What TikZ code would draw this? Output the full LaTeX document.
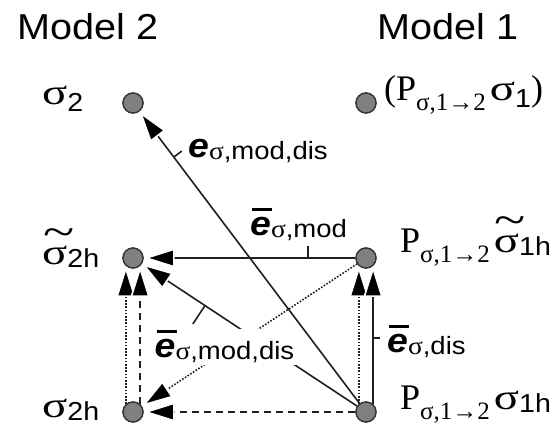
\documentclass[tikz,border=0pt]{standalone}
\usepackage{fontspec}
\usepackage{graphicx}
\setmainfont{Liberation Serif}
\newfontfamily\sansf[FakeStretch=1.1]{Liberation Sans}
\usetikzlibrary{arrows.meta,calc}
\newcommand\fs[1]{\fontsize{#1}{#1}\selectfont}
\newcommand\sg{{\rmfamily\scalebox{1.3}[1]{σ}}}
\newcommand\ssg{{\rmfamily\scalebox{1.1}[1]{σ}}}
\newcommand\tsg{\makebox[0pt][l]{\hspace{1pt}\raisebox{18pt}{\scalebox{1.6}[1.2]{\textasciitilde}}}\sg}
\newcommand\Ps{P\raisebox{-10pt}{\fs{25}σ,1→2}\hspace{4pt}}
\newcommand\eb{\makebox[0pt][l]{\hspace{2pt}\rule[25pt]{20pt}{2.6pt}}\textbf{\textit{e}}}
\begin{document}
\begin{tikzpicture}[x=1pt,y=-1pt,
  dot/.style={circle,minimum size=20pt,inner sep=0pt,fill=black!50,draw=black!80,line width=1.3pt},
  lab/.style={anchor=base west,inner sep=0pt},
  arr/.style={line width=1.6pt,draw=black!88,-{Triangle[length=31pt,width=19pt,color=white,fill=black]}},
  dotl/.style={dash pattern=on 1.6pt off 1.6pt},
  dashl/.style={dash pattern=on 7pt off 5pt},
  tk/.style={line width=1.6pt,draw=black!88}]
\useasboundingbox (0,0) rectangle (555,427);
% dots (positions)
\node[dot] (s2) at (133,103) {};
\node[dot] (p1) at (366,103) {};
\node[dot] (s2t) at (133,258) {};
\node[dot] (p1t) at (366,258) {};
\node[dot] (s2h) at (133,412) {};
\node[dot] (p1h) at (366,412) {};
% texts
\node[lab] (m2) at (17,40) {\sansf\fs{36}Model 2};
\node[lab] (m1) at (377,40) {\sansf\fs{36}Model 1};
\node[lab] (ls2) at (42,105) {\fs{36}\sg\raisebox{-7pt}{\sansf\fs{26}2}};
\node[lab] (lp1) at (384,101) {\fs{36}(\Ps\sg\raisebox{-7pt}{\sansf\fs{26}1})};
\node[lab] (ls2t) at (42,265) {\fs{36}\tsg\raisebox{-3pt}{\sansf\fs{26}2h}};
\node[lab] (lp1t) at (400,253) {\fs{36}\Ps\tsg\raisebox{-3pt}{\sansf\fs{26}1h}};
\node[lab] (ls2h) at (42,418) {\fs{36}\sg\raisebox{-3pt}{\sansf\fs{26}2h}};
\node[lab] (lp1h) at (400,410) {\fs{36}\Ps\sg\raisebox{-3pt}{\sansf\fs{26}1h}};
% connectors
\draw[arr] (p1t) -- (s2t);
\draw[arr] (p1h) -- (s2t);
\draw[arr,dotl] (p1t) -- (s2h);
\draw[arr,dashl] (p1h) -- (s2h);
\draw[arr,dotl] (s2h.132) -- (s2t.-132);
\draw[arr,dashl] (s2h.48) -- (s2t.-48);
\draw[arr,dotl] (p1h.132) -- (p1t.-132);
\draw[arr] (p1h.48) -- (p1t.-48);
% edge labels
\node[lab] (e1) at (188,158) {\sansf\fs{34}\textbf{\textit{e}}\raisebox{-2pt}{\fs{25}\ssg,mod,dis}};
\node[lab] (e2) at (250,236) {\sansf\fs{34}\eb\raisebox{-2pt}{\fs{25}\ssg,mod}};
\node[lab,fill=white,inner sep=1.5pt] (e3) at (153,358) {\sansf\fs{34}\eb\raisebox{-2pt}{\fs{25}\ssg,mod,dis}};
\node[lab] (e4) at (387,353) {\sansf\fs{34}\eb\raisebox{-2pt}{\fs{25}\ssg,dis}};
\draw[arr] (p1h) -- (s2);
% ticks
\coordinate (t1) at ($(p1h)!0.825!(s2)$);
\draw[tk] (t1) -- ($(t1)!10pt!-90:(s2)$);
\coordinate (t2) at ($(p1t)!0.249!(s2t)$);
\draw[tk] (t2) -- ($(t2)!12pt!-90:(s2t)$);
\coordinate (t3) at ($(p1h)!0.691!(s2t)$);
\draw[tk] (t3) -- ($(t3)!22pt!90:(s2t)$);
\coordinate (t4) at ($(p1h.48)!0.479!(p1t.-48)$);
\draw[tk] (t4) -- ($(t4)!7pt!-90:(p1t.-48)$);
% redraw dots on top
\foreach \n in {s2,p1,s2t,p1t,s2h,p1h}{\node[dot] at (\n) {};}
\end{tikzpicture}
\end{document}
